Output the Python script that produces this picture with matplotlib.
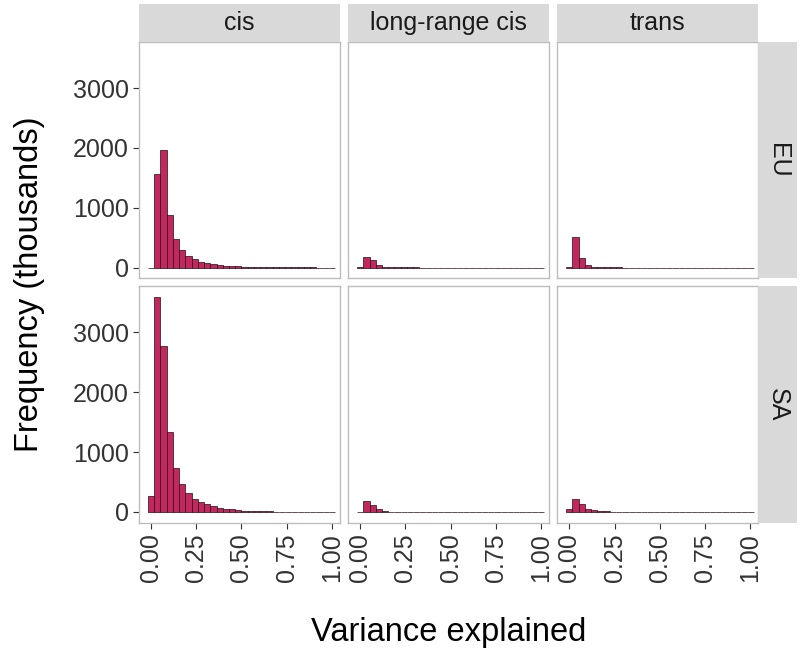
import matplotlib
matplotlib.use("Agg")
import matplotlib.pyplot as plt
import numpy as np

plt.rcParams['font.family'] = ['Liberation Sans', 'DejaVu Sans']

# histogram counts (thousands), 30 bins of width 1/29 centred on k/29
cols = ['cis', 'long-range cis', 'trans']
rows = ['EU', 'SA']

cis_eu = [0, 1567, 1967, 883, 477, 293, 200, 138, 100, 77, 55, 38, 30, 24, 18,
          14, 11, 8, 6, 5, 4, 3, 2, 2, 1.5, 1, 1, 0.5, 0.5, 0.3]
cis_sa = [262, 3595, 2767, 1328, 733, 462, 323, 217, 167, 123, 90, 67, 50, 40, 28,
          21, 16, 12, 9, 7, 5, 4, 3, 2, 2, 1.5, 1, 1, 0.5, 0.3]
lr_eu = [2, 178, 128, 38, 15, 6, 3, 2, 1, 1, 0.5, 0.5, 0.3, 0.3, 0.2,
         0.2, 0.1, 0.1, 0.1, 0.1, 0.1, 0.1, 0.1, 0.1, 0.1, 0.1, 0.1, 0.1, 0.1, 0.1]
lr_sa = [2, 176, 110, 44, 10, 4, 2, 1, 1, 0.5, 0.5, 0.3, 0.3, 0.2, 0.2,
         0.1, 0.1, 0.1, 0.1, 0.1, 0.1, 0.1, 0.1, 0.1, 0.1, 0.1, 0.1, 0.1, 0.1, 0.1]
tr_eu = [3, 511, 167, 38, 15, 5, 2, 1, 1, 0.5, 0.5, 0.3, 0.3, 0.2, 0.2,
         0.1, 0.1, 0.1, 0.1, 0.1, 0.1, 0.1, 0.1, 0.1, 0.1, 0.1, 0.1, 0.1, 0.1, 0.1]
tr_sa = [44, 215, 137, 55, 28, 15, 6, 3, 2, 1, 1, 0.5, 0.5, 0.3, 0.2,
         0.2, 0.1, 0.1, 0.1, 0.1, 0.1, 0.1, 0.1, 0.1, 0.1, 0.1, 0.1, 0.1, 0.1, 0.1]

data = {('EU', 'cis'): cis_eu, ('SA', 'cis'): cis_sa,
        ('EU', 'long-range cis'): lr_eu, ('SA', 'long-range cis'): lr_sa,
        ('EU', 'trans'): tr_eu, ('SA', 'trans'): tr_sa}

nbins = 30
width = 1 / (nbins - 1)
centers = np.arange(nbins) * width

ymax = max(max(v) for v in data.values())
ylim = (-0.05 * ymax, 1.05 * ymax)

W, H = 800, 654
fig = plt.figure(figsize=(W / 100, H / 100), dpi=100)

fill = '#C0285E'
strip_bg = '#D9D9D9'
border = '#BDBDBD'
tick_col = '#333333'

col_x = [139, 348.2, 557.4]
pw = 201.0
row_y = [41.7, 286.0]
ph = 236.6

def fx(px):
    return px / W

def fy(py, h):
    return 1 - (py + h) / H

for r, row in enumerate(rows):
    for c, col in enumerate(cols):
        ax = fig.add_axes([fx(col_x[c]), fy(row_y[r], ph), pw / W, ph / H])
        ax.bar(centers, data[(row, col)], width=width, color=fill,
               edgecolor='#2a0a15', linewidth=0.5)
        ax.set_xlim(-0.066, 1.044)
        ax.set_ylim(*ylim)
        ax.set_xticks([0, 0.25, 0.5, 0.75, 1.0])
        ax.set_yticks([0, 1000, 2000, 3000])
        for s in ax.spines.values():
            s.set_color(border)
            s.set_linewidth(1.0)
        ax.tick_params(length=4, width=0.8, color=tick_col, labelcolor=tick_col,
                       labelsize=18)
        if c == 0:
            ax.set_yticklabels(['0', '1000', '2000', '3000'])
        else:
            ax.tick_params(axis='y', length=0, labelleft=False)
        if r == 1:
            ax.set_xticklabels(['0.00', '0.25', '0.50', '0.75', '1.00'], rotation=90)
        else:
            ax.tick_params(axis='x', length=0, labelbottom=False)

# top strips
for c, col in enumerate(cols):
    sax = fig.add_axes([fx(col_x[c]), fy(4, 37.7), pw / W, 37.7 / H])
    sax.set_facecolor(strip_bg)
    sax.set_xticks([])
    sax.set_yticks([])
    for s in sax.spines.values():
        s.set_visible(False)
    sax.text(0.5, 0.5, col, ha='center', va='center', fontsize=18,
             color='#1a1a1a', transform=sax.transAxes)

# right strips
for r, row in enumerate(rows):
    sax = fig.add_axes([fx(758.4), fy(row_y[r], ph), 38.5 / W, ph / H])
    sax.set_facecolor(strip_bg)
    sax.set_xticks([])
    sax.set_yticks([])
    for s in sax.spines.values():
        s.set_visible(False)
    sax.text(0.5, 0.5, row, ha='center', va='center', fontsize=18, rotation=-90,
             color='#1a1a1a', transform=sax.transAxes)

fig.text(fx(30), 1 - 284 / H, 'Frequency (thousands)', rotation=90,
         ha='center', va='center', fontsize=23.5)
fig.text(fx(449), 1 - 632 / H, 'Variance explained', ha='center', va='center',
         fontsize=23.5)

fig.savefig('out.png', dpi=100)
